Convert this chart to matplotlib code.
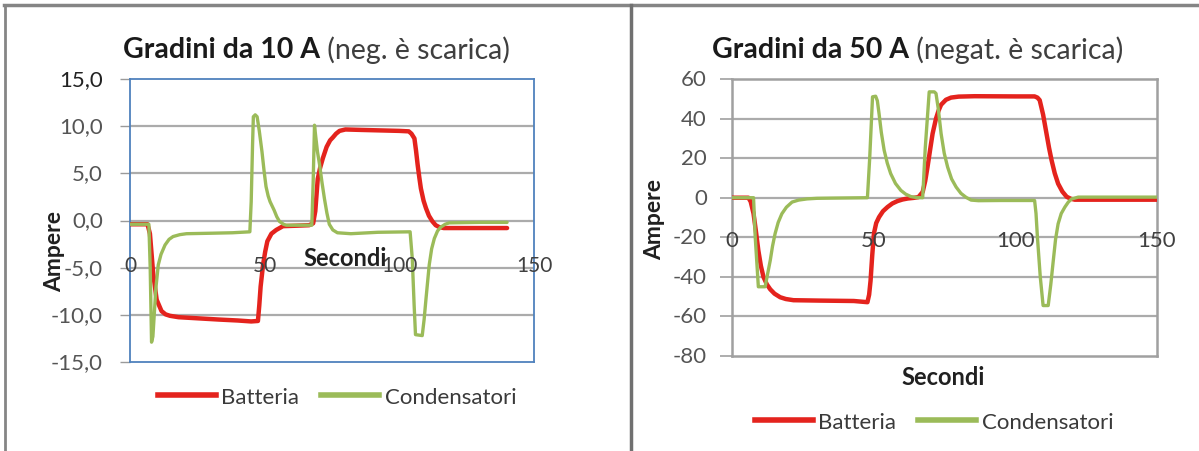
import matplotlib
matplotlib.use("Agg")
import matplotlib.pyplot as plt
from matplotlib.lines import Line2D

plt.rcParams['font.family'] = ['Lato', 'DejaVu Sans']

# ---------------- data ----------------
# Left chart: steps of 10 A
l_bat_x = [0, 6.5, 7.4, 8.6, 9.9, 11.7, 13.2, 14.8, 18, 21, 27, 33, 40, 45, 47.5, 48, 48.5, 49.4, 50.2,
           51, 52.5, 54.3, 56.8, 62, 66.5, 68, 68.8, 69.7, 70.6, 71.6, 73, 74.3, 75.3, 76.5, 77.8, 80,
           86, 93, 100, 103.5, 104.5, 105.6, 106.2, 106.8, 107.4, 108, 109, 109.9, 111, 112.3, 113.5,
           114.8, 116.5, 125, 133, 140]
l_bat_y = [-0.4, -0.4, -1.4, -5.6, -8.4, -9.6, -9.95, -10.1, -10.25, -10.3, -10.4, -10.5, -10.6, -10.7,
           -10.65, -9.0, -7.0, -4.7, -3.3, -2.2, -1.4, -1.0, -0.6, -0.55, -0.5, -0.3, 1.0, 4.4, 5.6, 6.6,
           7.8, 8.5, 8.8, 9.2, 9.5, 9.65, 9.6, 9.55, 9.5, 9.45, 9.2, 8.7, 7.4, 5.9, 4.6, 3.4, 2.1, 1.3,
           0.5, -0.1, -0.5, -0.7, -0.8, -0.8, -0.8, -0.8]
l_cond_x = [0, 7, 7.5, 8, 8.5, 9, 9.6, 10.5, 11.5, 13, 14.5, 16, 18.5, 21, 30, 38, 44.5, 45.0, 45.5, 45.8,
            46.5, 47.2, 48, 49, 49.8, 50.5, 51.3, 52, 53.5, 54.5, 55.5, 57, 58, 67.5, 68.0, 68.5, 69.0,
            69.6, 70.4, 71.3, 72.2, 73.1, 74, 75.3, 77, 82, 92, 104, 104.8, 105.5, 106, 108.5, 109.2,
            109.9, 110.5, 111.1, 112, 113, 114.2, 115.4, 117, 118.5, 130, 140]
l_cond_y = [-0.4, -0.4, -5, -12.9, -12.3, -10, -7.2, -4.7, -3.6, -2.6, -2.0, -1.7, -1.5, -1.4, -1.35,
            -1.3, -1.2, 2, 8, 11.0, 11.2, 11.0, 9.5, 7.3, 5.2, 3.6, 2.6, 2.0, 1.1, 0.4, -0.1, -0.4, -0.5,
            -0.5, 4, 10.1, 8.8, 7.3, 5.9, 4.0, 2.3, 0.8, -0.4, -1.0, -1.3, -1.4, -1.25, -1.2, -4, -9,
            -12.1, -12.2, -10.5, -8.3, -6.5, -4.7, -3.0, -1.9, -1.1, -0.7, -0.4, -0.25, -0.2, -0.2]

# Right chart: steps of 50 A
r_bat_x = [0, 5.8, 6.6, 7.6, 8.4, 9.3, 10.2, 11.1, 12.3, 13.5, 15, 17, 19, 21.7, 31, 43, 47.8, 48.4, 48.9,
           49.5, 50.1, 50.9, 51.9, 53.3, 54.9, 56.6, 58.4, 60.2, 62, 64, 65.8, 67.3, 68.2, 69, 69.9, 70.8,
           72, 72.9, 73.8, 75.5, 77.3, 80, 85.6, 100, 106.8, 107.8, 108.6, 109.8, 111, 111.9, 112.8,
           113.9, 115.1, 116.6, 118.1, 119.5, 121, 135, 150]
r_bat_y = [0, 0, -2, -8, -16.5, -26.7, -34.5, -40, -43.8, -46.3, -48.5, -50.3, -51.2, -51.8, -52, -52.2,
           -52.8, -49, -42, -29, -18, -12.8, -9.8, -6.8, -4.7, -2.9, -1.7, -0.9, -0.4, -0.1, 0.3, 2.9, 8.5,
           15.5, 24, 32.4, 40, 44, 47, 49.5, 50.6, 51.1, 51.3, 51.2, 51.2, 50.6, 49.3, 42, 32.4, 25.2,
           18.9, 12.4, 7.1, 3.1, 0.5, -0.5, -1, -1, -1]
r_cond_x = [0, 7.6, 8.2, 9.3, 11.7, 12.5, 13.5, 14.3, 15.2, 16.3, 17.6, 19.2, 21.2, 23.5, 26.5, 30, 35,
            47.8, 48.6, 49.6, 50.7, 51.3, 51.9, 52.7, 53.7, 54.8, 56, 57.7, 59.6, 61.3, 63.1, 65, 67.3,
            68.2, 69.6, 71.4, 72, 72.8, 73.8, 74.9, 76.1, 77.5, 79.1, 80.8, 82.6, 84.4, 87, 95, 106.8,
            107.3, 107.8, 108.8, 109.8, 111.6, 112.5, 113.4, 114.2, 115.1, 116.2, 117.5, 118.7, 119.9,
            122.2, 135, 150]
r_cond_y = [0, 0, -20, -45, -45, -39, -31.7, -24.5, -18.2, -12.5, -8.1, -4.8, -2.2, -1.2, -0.6, -0.3,
            -0.2, 0, 20, 51, 51.3, 49, 42.5, 33, 24, 17.5, 12.2, 7.2, 3.7, 1.8, 0.6, 0.1, 0, 25, 53.5,
            53.5, 52.7, 45, 32.4, 22.5, 15.5, 9.5, 5.4, 2.2, 0.2, -1.2, -1.5, -1.4, -1.4, -8, -20, -40,
            -54.5, -54.5, -44, -31.7, -21, -13.2, -8, -4.7, -2.2, -0.6, 0.3, 0.3, 0.3]

x_ticks = [0, 50, 100, 150]
l_y_ticks = [-15, -10, -5, 0, 5, 10, 15]
r_y_ticks = [-80, -60, -40, -20, 0, 20, 40, 60]

series_names = ['Batteria', 'Condensatori']
RED = '#E4231D'
GREEN = '#9BBB59'

W, H = 1199, 452
fig = plt.figure(figsize=(W / 100, H / 100), dpi=100)


def fx(px):
    return px / W


def fy(py):
    return 1 - py / H


def make_axes(l, r, t, b):
    return fig.add_axes([fx(l), fy(b), fx(r) - fx(l), fy(t) - fy(b)])


def ylabels(ax, ticks, texts, x_right_px, left_px, width_px, colors, size):
    # tick labels drawn as text, right aligned at a fixed pixel column
    xa = (x_right_px - left_px) / width_px
    for v, s, c in zip(ticks, texts, colors):
        ax.text(xa, v, s, transform=ax.get_yaxis_transform(), ha='right', va='center',
                fontsize=size, color=c, clip_on=False)


# ---------------- left chart ----------------
L_L, L_R, L_T, L_B = 130, 534, 80, 363
axL = make_axes(L_L, L_R, L_T, L_B)
axL.set_xlim(0, 150)
axL.set_ylim(-15, 15)
for v in l_y_ticks[1:-1]:
    axL.axhline(v, color='#ABABAB', lw=1.6, zorder=1)
axL.plot(l_bat_x, l_bat_y, color=RED, lw=3.2, solid_capstyle='round', solid_joinstyle='round', zorder=3)
axL.plot(l_cond_x, l_cond_y, color=GREEN, lw=2.4, solid_capstyle='round', solid_joinstyle='round',
         zorder=4)
for s in axL.spines.values():
    s.set_color('#4F81BD')
    s.set_linewidth(1.3)
axL.set_yticks(l_y_ticks)
axL.tick_params(axis='y', length=7.2, width=1, color='#9A9A9A', labelleft=False)
axL.set_xticks([])
ylabels(axL, l_y_ticks, [f"{v:.1f}".replace('.', ',') for v in l_y_ticks], 103, L_L, L_R - L_L,
        ['#555555'] * (len(l_y_ticks) - 1) + ['#222222'], 16)
for v in x_ticks:
    axL.text(v, -4.75, str(v), ha='center', va='center', fontsize=15, color='#404040', zorder=5)
axL.text(80, -3.9, 'Secondi', ha='center', va='center', fontsize=17, fontweight='bold',
         color='#202020', zorder=5)
fig.text(fx(55), fy(252), 'Ampere', rotation=90, ha='center', va='center', fontsize=16.5,
         fontweight='bold', color='#202020')

# ---------------- right chart ----------------
R_L, R_R, R_T, R_B = 732, 1157, 80, 357
axR = make_axes(R_L, R_R, R_T, R_B)
axR.set_xlim(0, 150)
axR.set_ylim(-80, 60)
for v in r_y_ticks[1:-1]:
    axR.axhline(v, color='#ABABAB', lw=1.6, zorder=1)
axR.plot(r_bat_x, r_bat_y, color=RED, lw=3.2, solid_capstyle='round', solid_joinstyle='round', zorder=3)
axR.plot(r_cond_x, r_cond_y, color=GREEN, lw=2.4, solid_capstyle='round', solid_joinstyle='round',
         zorder=4)
for s in axR.spines.values():
    s.set_color('#A0A0A0')
    s.set_linewidth(1.8)
axR.set_yticks(r_y_ticks)
axR.tick_params(axis='y', length=8.6, width=1.2, color='#A0A0A0', labelleft=False)
axR.set_xticks([])
ylabels(axR, r_y_ticks, [str(v) for v in r_y_ticks], 707, R_L, R_R - R_L,
        ['#555555'] * len(r_y_ticks), 16)
for v in x_ticks:
    axR.text(v, -21.5, str(v), ha='center', va='center', fontsize=16, color='#404040', zorder=5)
fig.text(fx(943), fy(378), 'Secondi', ha='center', va='center', fontsize=17, fontweight='bold',
         color='#202020')
fig.text(fx(655), fy(219), 'Ampere', rotation=90, ha='center', va='center', fontsize=16.5,
         fontweight='bold', color='#202020')

# ---------------- titles ----------------
renderer = fig.canvas.get_renderer()


def two_part_title(cx, cy, bold_part, normal_part, size):
    t1 = fig.text(0, fy(cy), bold_part, fontsize=size, fontweight='bold', color='#1A1A1A',
                  ha='left', va='center')
    t2 = fig.text(0, fy(cy), ' ' + normal_part, fontsize=size, color='#3F3F3F',
                  ha='left', va='center')
    w1 = t1.get_window_extent(renderer).width
    w2 = t2.get_window_extent(renderer).width
    x0 = cx - (w1 + w2) / 2
    t1.set_x(fx(x0))
    t2.set_x(fx(x0 + w1))


two_part_title(316, 50, 'Gradini da 10 A', '(neg. è scarica)', 20.5)
two_part_title(918, 50, 'Gradini da 50 A', '(negat. è scarica)', 20.5)

# ---------------- legends ----------------
handles = [Line2D([], [], color=RED, lw=4), Line2D([], [], color=GREEN, lw=4)]
for cx, cy in [(337, 398), (934, 423)]:
    fig.legend(handles, series_names, loc='center', bbox_to_anchor=(fx(cx), fy(cy)), ncol=2,
               frameon=False, fontsize=16, handlelength=2.6, handletextpad=0.25,
               columnspacing=1.0, labelcolor='#3A3A3A', borderpad=0, borderaxespad=0)

# ---------------- frame lines ----------------
border = '#858585'
fig.add_artist(Line2D([fx(4), fx(1199)], [fy(6), fy(6)], color=border, lw=2.5))
fig.add_artist(Line2D([fx(5), fx(5)], [fy(6), fy(452)], color=border, lw=2))
fig.add_artist(Line2D([fx(631), fx(631)], [fy(6), fy(452)], color='#707070', lw=2.5))

fig.savefig('out.png', dpi=100)
